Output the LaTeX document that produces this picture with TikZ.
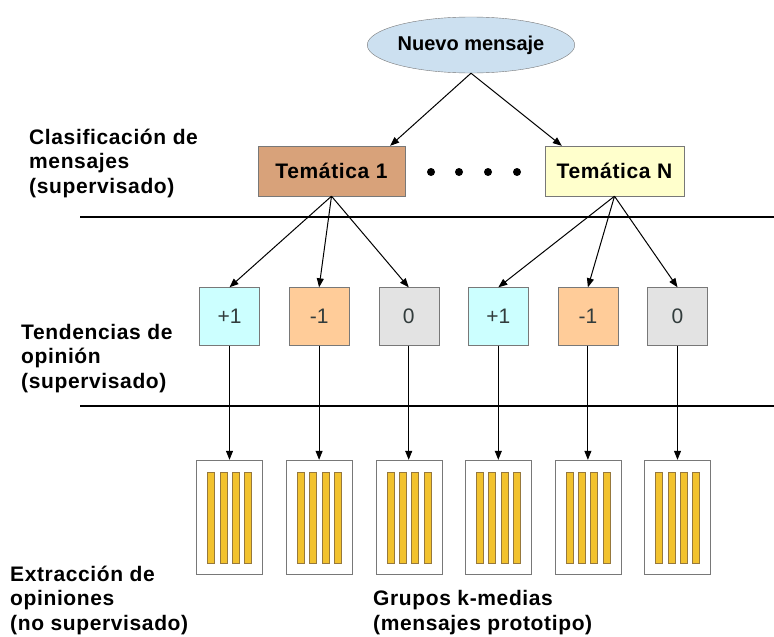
\documentclass[tikz,border=0pt]{standalone}
\usepackage{fontspec}
\setmainfont{Liberation Sans}
\newfontfamily\etiqueta[LetterSpace=3]{Liberation Sans}
\usetikzlibrary{arrows.meta,shapes.geometric,positioning}

\definecolor{azulelipse}{RGB}{204,224,240}
\definecolor{cafetema}{RGB}{216,162,122}
\definecolor{amarillotema}{RGB}{255,255,204}
\definecolor{positivo}{RGB}{204,255,255}
\definecolor{negativo}{RGB}{255,204,153}
\definecolor{neutro}{RGB}{227,227,227}
\definecolor{barra}{RGB}{242,194,46}
\definecolor{bordebarra}{RGB}{150,120,60}
\definecolor{borde}{RGB}{120,120,120}
\definecolor{textocaja}{RGB}{50,60,60}

\tikzset{
	titulo/.style={font=\etiqueta\bfseries\fontsize{21}{24.5}\selectfont, align=left, inner sep=0pt, anchor=base west},
	tema/.style={draw=borde, minimum height=50pt, inner sep=0pt, font=\etiqueta\bfseries\fontsize{21}{21}\selectfont},
	tendencia/.style={draw=borde, minimum width=60pt, minimum height=58pt, inner sep=0pt, text=textocaja, font=\fontsize{21}{21}\selectfont},
	grupo/.style={draw=borde, minimum width=66pt, minimum height=114pt, inner sep=0pt},
	flecha/.style={-{Triangle[length=9pt,width=7pt]}, line width=1pt},
	separador/.style={line width=1.3pt}
}

\begin{document}
\begin{tikzpicture}[x=1pt,y=-1pt]
	\useasboundingbox (0,0) rectangle (774,637);

	% nivel 1: mensaje y tematicas
	\node[ellipse, draw=borde, fill=azulelipse, minimum width=180pt, minimum height=56pt, inner sep=0pt, font=\bfseries\fontsize{20}{20}\selectfont] (nuevo) at (471,45) {Nuevo mensaje};
	\node[tema, fill=cafetema, minimum width=147pt] (tema1) at (331.5,171) {Temática 1};
	\node[tema, fill=amarillotema, minimum width=139pt] (temaN) at (614.5,171) {Temática N};
	\foreach \d in {431,459,488,517}
		\fill (\d,172) circle (4);
	\draw[flecha] (nuevo.south) -- ([xshift=-15pt]tema1.north east);
	\draw[flecha] (nuevo.south) -- ([xshift=17pt]temaN.north west);

	% separadores
	\draw[separador] (80,217) -- (774,217);
	\draw[separador] (80,406) -- (774,406);

	% nivel 2 y 3: tendencias y grupos
	\foreach \i/\c/\t in {1/positivo/+1, 2/negativo/-1, 3/neutro/0, 4/positivo/+1, 5/negativo/-1, 6/neutro/0} {
		\pgfmathsetmacro\x{229.5+(\i-1)*89.6}
		\node[tendencia, fill=\c] (tend\i) at (\x,316.5) {\t};
		\node[grupo] (grupo\i) at (\x,517) {};
		\foreach \b in {-18.5,-6.2,6.2,18.5}
			\draw[draw=bordebarra, fill=barra] (\x+\b-3.5,472) rectangle (\x+\b+3.5,563);
		\draw[flecha] (tend\i) -- (grupo\i);
	}
	\foreach \i in {1,2,3}
		\draw[flecha] (tema1.south) -- (tend\i.north);
	\foreach \i in {4,5,6}
		\draw[flecha] (temaN.south) -- (tend\i.north);

	% etiquetas
	\node[titulo] (clasif) at (29,193) {Clasificación de\\mensajes\\(supervisado)};
	\node[titulo] (tendencias) at (21,388) {Tendencias de\\opinión\\(supervisado)};
	\node[titulo] (extraccion) at (10,630) {Extracción de\\opiniones\\(no supervisado)};
	\node[titulo] (grupos) at (373,630) {Grupos k-medias\\(mensajes prototipo)};
\end{tikzpicture}
\end{document}
